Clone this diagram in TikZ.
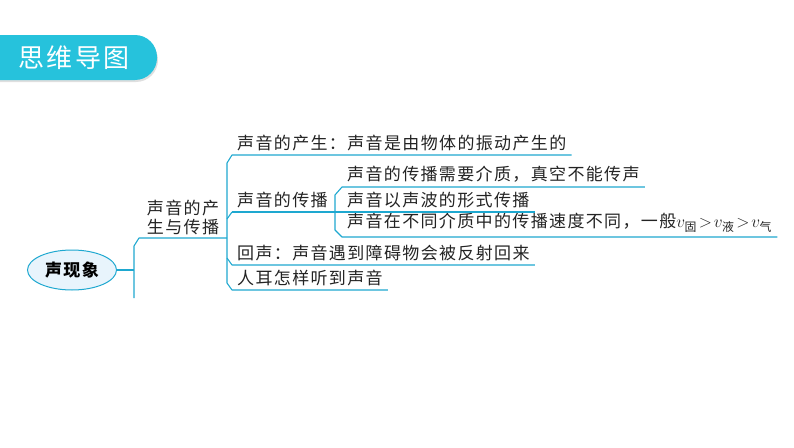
\documentclass[tikz,border=0pt]{standalone}
\usepackage{amsmath}
\usepackage{fontspec}
\setmainfont{Noto Sans CJK SC}[LetterSpace=8]
\usetikzlibrary{positioning,calc,shapes.geometric}
\definecolor{titleCyan}{RGB}{38,194,220}
\definecolor{branchCyan}{RGB}{30,168,208}
\definecolor{rootFill}{RGB}{232,244,252}
\definecolor{inkDark}{RGB}{35,35,35}
\tikzset{
  leaf node/.style={anchor=south west,inner xsep=5pt,inner ysep=4pt,text=inkDark,font=\fontsize{17}{19}\selectfont},
  topic node/.style={anchor=south,align=center,inner xsep=5pt,inner ysep=3pt,text=inkDark,font=\fontsize{17}{19}\selectfont},
  root node/.style={ellipse,draw=branchCyan,fill=rootFill,line width=1pt,minimum width=89pt,minimum height=40pt,inner sep=0pt,text=black,font=\fontsize{17}{19}\selectfont\bfseries},
  branch line/.style={draw=branchCyan,line width=1.1pt,line join=round},
  title box/.style={fill=titleCyan,rounded corners=22pt}
}
\begin{document}
\begin{tikzpicture}[x=1pt,y=-1pt]
  \useasboundingbox (0,0) rectangle (794,447);
  % title bar
  \fill[gray!25,rounded corners=22pt] (-40,38) rectangle (158,82);
  \fill[title box] (-40,35) rectangle (157,80);
  \node[text=white,font=\fontsize{26}{28}\selectfont] (title) at (74,57.5) {思维导图};
  % root
  \node[root node] (root) at (72,270) {声现象};
  \coordinate (bar1) at (134,270);
  \draw[branch line] (root.east) -- (bar1);
  % level 1
  \node[topic node] (origin) at (183,238) {声音的产\\生与传播};
  \coordinate (bar2) at (227,238);
  \draw[branch line] (bar2) -- (139,238) -- (134,246) -- (134,298);
  % level 2
  \node[leaf node] (produce) at (232,155) {声音的产生：声音是由物体的振动产生的};
  \node[leaf node] (spread) at (232,212) {声音的传播};
  \node[leaf node] (echo) at (232,265) {回声：声音遇到障碍物会被反射回来};
  \node[leaf node] (hear) at (232,290) {人耳怎样听到声音};
  \draw[branch line] (produce.south east) -- (produce.south west) -- ++(-5,8)
    -- ($(hear.south west)+(-5,-7)$) -- (hear.south west) -- (hear.south east);
  \draw[branch line] (spread.south west) -- ++(-5,7);
  \draw[branch line] (echo.south east) -- (echo.south west) -- ++(-5,-7);
  \coordinate (bar3) at (335,212);
  \draw[branch line] (spread.south west) -- (bar3);
  % level 3
  \node[leaf node] (need) at (342,187) {声音的传播需要介质，真空不能传声};
  \node[leaf node] (wave) at (342,212) {声音以声波的形式传播};
  \node[leaf node] (speed) at (342,237) {声音在不同介质中的传播速度不同，一般$v_{\text{固}}\!>\!v_{\text{液}}\!>\!v_{\text{气}}$};
  \draw[branch line] (need.south east) -- (need.south west) -- ++(-7,8)
    -- ($(speed.south west)+(-7,-7)$) -- (speed.south west) -- (speed.south east);
  \draw[branch line] (bar3) -- (wave.south west) -- (wave.south east);
\end{tikzpicture}
\end{document}
